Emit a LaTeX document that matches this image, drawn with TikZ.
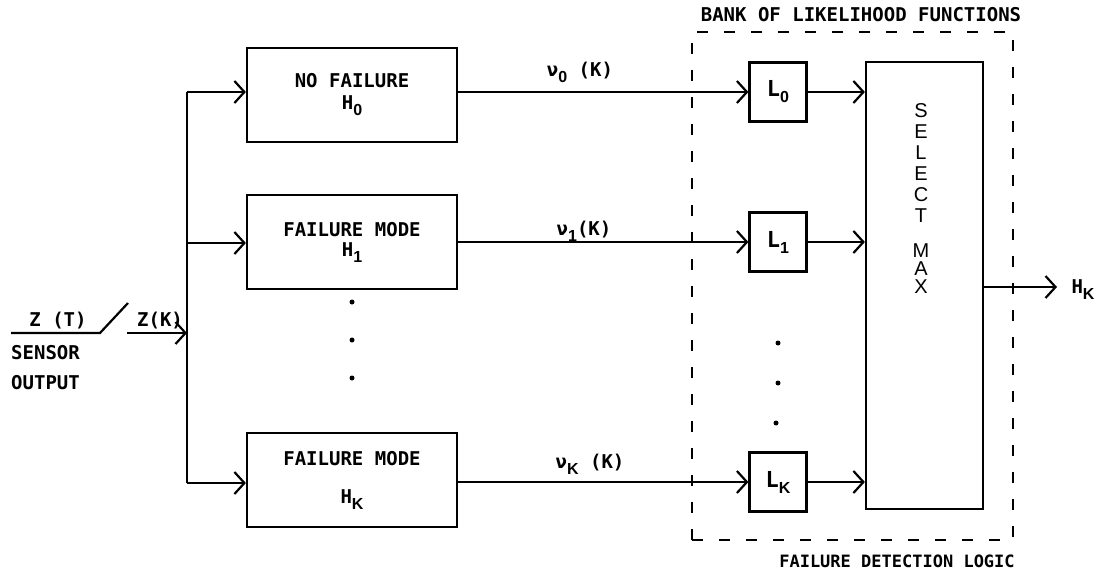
\documentclass[tikz,border=0pt]{standalone}
\usepackage{fontspec}
\usetikzlibrary{arrows.meta}
\newfontfamily\twfont{DejaVu Sans Mono}
\newfontfamily\selfont{Liberation Sans}
\newcommand\lblfont{\twfont\bfseries\fontsize{19}{22}\selectfont}
\newcommand\hsub[1]{\raisebox{-6pt}{\selfont\bfseries\fontsize{16}{16}\selectfont #1}}
\tikzset{
  every node/.style={font=\lblfont, inner sep=0pt},
  blk/.style={draw, line width=2.2pt, minimum width=210pt, minimum height=94pt, align=center},
  lbox/.style={draw, line width=2.2pt, minimum width=57pt, minimum height=59pt},
  selbox/.style={draw, line width=2.2pt, minimum width=117pt, minimum height=447pt},
  bankbox/.style={draw, line width=2.4pt, dash pattern=on 11pt off 16pt, minimum width=321pt, minimum height=508pt},
  wire/.style={line width=2.2pt},
  arr/.style={wire, -{Straight Barb[length=10pt,width=22pt,line width=2.2pt]}},
  dotn/.style={circle, fill, minimum size=5pt},
}
\begin{document}
\begin{tikzpicture}[x=1pt,y=-1pt]
\useasboundingbox (0,0) rectangle (1099,575);
% hypothesis boxes
\node[blk] (h0) at (352,95) {NO FAILURE\\[0pt]H\hsub{0}};
\node[blk] (h1) at (352,242) {FAILURE MODE\\[-2pt]H\hsub{1}};
\node[blk] (hk) at (352,480) {FAILURE MODE\\[16pt]H\hsub{K}};
% bus
\coordinate (b0) at (187,92);
\coordinate (b1) at (187,243);
\coordinate (bk) at (187,483);
\coordinate (bin) at (187,333);
\draw[wire] (b0) -- (bk);
\draw[arr] (b0) -- (b0 -| h0.west);
\draw[arr] (b1) -- (b1 -| h1.west);
\draw[arr] (bk) -- (bk -| hk.west);
% input and switch
\coordinate (zt) at (11,333);
\coordinate (sw1) at (100,333);
\coordinate (sw2) at (128,303);
\coordinate (zk0) at (127,333);
\draw[wire] (zt) -- (sw1) -- (sw2);
\draw[arr] (zk0) -- (bin);
\node (zT) at (58,321) {Z (T)};
\node (zK) at (160,321) {Z(K)};
\node[anchor=west] (sens) at (11,353) {SENSOR};
\node[anchor=west] (outp) at (11,383) {OUTPUT};
% dots
\node[dotn] (d1) at (352,302) {};
\node[dotn] (d2) at (352,340) {};
\node[dotn] (d3) at (352,378) {};
\node[dotn] (d4) at (778,343) {};
\node[dotn] (d5) at (778,383) {};
\node[dotn] (d6) at (776,423) {};
% likelihood boxes
\node[lbox] (l0) at (778,92) {\fontsize{22}{22}\selectfont L\hsub{0}};
\node[lbox] (l1) at (778,242) {\fontsize{22}{22}\selectfont L\hsub{1}};
\node[lbox] (lk) at (778,482) {\fontsize{22}{22}\selectfont L\hsub{K}};
\draw[arr] (h0.east |- l0) -- (l0.west);
\draw[arr] (h1.east |- l1) -- (l1.west);
\draw[arr] (hk.east |- lk) -- (lk.west);
\node (n0) at (580,72) {ν\hsub{0} (K)};
\node (n1) at (584,231) {ν\hsub{1}(K)};
\node (nk) at (590,464) {ν\hsub{K} (K)};
% select max
\node[selbox] (sel) at (924.5,285.5) {};
\draw[arr] (l0.east) -- (l0.east -| sel.west);
\draw[arr] (l1.east) -- (l1.east -| sel.west);
\draw[arr] (lk.east) -- (lk.east -| sel.west);
\node[anchor=north, align=center, font=\selfont\fontsize{20}{21}\selectfont] (selt) at (921,103) {S\\E\\L\\E\\C\\T\\[14pt]M\\[-3pt]A\\[-3pt]X};
\coordinate (out) at (1057,287);
\draw[arr] (sel.east |- out) -- (out);
\node (hout) at (1083,290) {H\hsub{K}};
% bank dashed box
\node[bankbox] (bank) at (852.5,286) {};
\node (banklbl) at (861,15) {BANK OF LIKELIHOOD FUNCTIONS};
\node[font=\twfont\bfseries\fontsize{17}{20}\selectfont] (fdl) at (897,561) {FAILURE DETECTION LOGIC};
\end{tikzpicture}
\end{document}
